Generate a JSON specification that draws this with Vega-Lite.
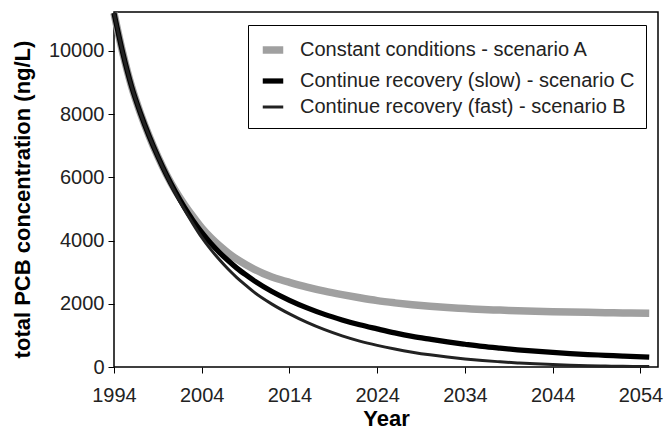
{
  "$schema": "https://vega.github.io/schema/vega-lite/v6.json",
  "autosize": "none",
  "width": 544,
  "height": 355,
  "padding": {"left": 114, "top": 12, "right": 7, "bottom": 74},
  "background": "white",
  "config": {
    "view": {"stroke": "#000000", "strokeWidth": 1.5},
    "font": "Liberation Sans",
    "axis": {
      "domain": false,
      "grid": false,
      "ticks": true,
      "tickColor": "#000000",
      "tickSize": 6,
      "tickWidth": 1,
      "labelFlush": false,
      "labelFont": "Liberation Sans",
      "labelFontSize": 20,
      "labelColor": "#222222",
      "titleFont": "Liberation Sans",
      "titleFontSize": 22,
      "titleFontWeight": "bold",
      "titleColor": "#000000"
    },
    "legend": {
      "labelFont": "Liberation Sans",
      "labelFontSize": 20,
      "labelColor": "#222222"
    }
  },
  "datasets": {
    "curves": [
      {"year": 1994, "scenario": "A", "value": 11200},
      {"year": 1995, "scenario": "A", "value": 9940},
      {"year": 1996, "scenario": "A", "value": 8880},
      {"year": 1997, "scenario": "A", "value": 8040},
      {"year": 1998, "scenario": "A", "value": 7310},
      {"year": 1999, "scenario": "A", "value": 6660},
      {"year": 2000, "scenario": "A", "value": 6080},
      {"year": 2001, "scenario": "A", "value": 5580},
      {"year": 2002, "scenario": "A", "value": 5150},
      {"year": 2003, "scenario": "A", "value": 4760},
      {"year": 2004, "scenario": "A", "value": 4400},
      {"year": 2005, "scenario": "A", "value": 4100},
      {"year": 2006, "scenario": "A", "value": 3840},
      {"year": 2007, "scenario": "A", "value": 3610},
      {"year": 2008, "scenario": "A", "value": 3410},
      {"year": 2009, "scenario": "A", "value": 3240},
      {"year": 2010, "scenario": "A", "value": 3090},
      {"year": 2011, "scenario": "A", "value": 2960},
      {"year": 2012, "scenario": "A", "value": 2850},
      {"year": 2013, "scenario": "A", "value": 2760},
      {"year": 2014, "scenario": "A", "value": 2680},
      {"year": 2016, "scenario": "A", "value": 2530},
      {"year": 2018, "scenario": "A", "value": 2400},
      {"year": 2020, "scenario": "A", "value": 2290},
      {"year": 2022, "scenario": "A", "value": 2190},
      {"year": 2024, "scenario": "A", "value": 2100},
      {"year": 2026, "scenario": "A", "value": 2030},
      {"year": 2028, "scenario": "A", "value": 1970},
      {"year": 2030, "scenario": "A", "value": 1920},
      {"year": 2032, "scenario": "A", "value": 1880},
      {"year": 2034, "scenario": "A", "value": 1850},
      {"year": 2036, "scenario": "A", "value": 1820},
      {"year": 2038, "scenario": "A", "value": 1800},
      {"year": 2040, "scenario": "A", "value": 1780},
      {"year": 2042, "scenario": "A", "value": 1765},
      {"year": 2044, "scenario": "A", "value": 1750},
      {"year": 2046, "scenario": "A", "value": 1740},
      {"year": 2048, "scenario": "A", "value": 1730},
      {"year": 2050, "scenario": "A", "value": 1720},
      {"year": 2052, "scenario": "A", "value": 1710},
      {"year": 2055, "scenario": "A", "value": 1700},

      {"year": 1994, "scenario": "C", "value": 11200},
      {"year": 1995, "scenario": "C", "value": 9940},
      {"year": 1996, "scenario": "C", "value": 8880},
      {"year": 1997, "scenario": "C", "value": 8040},
      {"year": 1998, "scenario": "C", "value": 7310},
      {"year": 1999, "scenario": "C", "value": 6660},
      {"year": 2000, "scenario": "C", "value": 6070},
      {"year": 2001, "scenario": "C", "value": 5545},
      {"year": 2002, "scenario": "C", "value": 5065},
      {"year": 2003, "scenario": "C", "value": 4640},
      {"year": 2004, "scenario": "C", "value": 4260},
      {"year": 2005, "scenario": "C", "value": 3925},
      {"year": 2006, "scenario": "C", "value": 3630},
      {"year": 2007, "scenario": "C", "value": 3370},
      {"year": 2008, "scenario": "C", "value": 3130},
      {"year": 2009, "scenario": "C", "value": 2920},
      {"year": 2010, "scenario": "C", "value": 2725},
      {"year": 2012, "scenario": "C", "value": 2390},
      {"year": 2014, "scenario": "C", "value": 2110},
      {"year": 2016, "scenario": "C", "value": 1870},
      {"year": 2018, "scenario": "C", "value": 1665},
      {"year": 2020, "scenario": "C", "value": 1490},
      {"year": 2022, "scenario": "C", "value": 1335},
      {"year": 2024, "scenario": "C", "value": 1205},
      {"year": 2026, "scenario": "C", "value": 1080},
      {"year": 2028, "scenario": "C", "value": 970},
      {"year": 2030, "scenario": "C", "value": 880},
      {"year": 2032, "scenario": "C", "value": 795},
      {"year": 2034, "scenario": "C", "value": 720},
      {"year": 2036, "scenario": "C", "value": 650},
      {"year": 2038, "scenario": "C", "value": 595},
      {"year": 2040, "scenario": "C", "value": 545},
      {"year": 2042, "scenario": "C", "value": 500},
      {"year": 2044, "scenario": "C", "value": 460},
      {"year": 2046, "scenario": "C", "value": 425},
      {"year": 2048, "scenario": "C", "value": 395},
      {"year": 2050, "scenario": "C", "value": 370},
      {"year": 2052, "scenario": "C", "value": 345},
      {"year": 2055, "scenario": "C", "value": 310},

      {"year": 1994, "scenario": "B", "value": 11200},
      {"year": 1995, "scenario": "B", "value": 9940},
      {"year": 1996, "scenario": "B", "value": 8880},
      {"year": 1997, "scenario": "B", "value": 8040},
      {"year": 1998, "scenario": "B", "value": 7310},
      {"year": 1999, "scenario": "B", "value": 6660},
      {"year": 2000, "scenario": "B", "value": 6060},
      {"year": 2001, "scenario": "B", "value": 5500},
      {"year": 2002, "scenario": "B", "value": 4990},
      {"year": 2003, "scenario": "B", "value": 4530},
      {"year": 2004, "scenario": "B", "value": 4100},
      {"year": 2005, "scenario": "B", "value": 3730},
      {"year": 2006, "scenario": "B", "value": 3400},
      {"year": 2007, "scenario": "B", "value": 3100},
      {"year": 2008, "scenario": "B", "value": 2830},
      {"year": 2009, "scenario": "B", "value": 2590},
      {"year": 2010, "scenario": "B", "value": 2360},
      {"year": 2012, "scenario": "B", "value": 1990},
      {"year": 2014, "scenario": "B", "value": 1680},
      {"year": 2016, "scenario": "B", "value": 1410},
      {"year": 2018, "scenario": "B", "value": 1180},
      {"year": 2020, "scenario": "B", "value": 985},
      {"year": 2022, "scenario": "B", "value": 820},
      {"year": 2024, "scenario": "B", "value": 685},
      {"year": 2026, "scenario": "B", "value": 570},
      {"year": 2028, "scenario": "B", "value": 470},
      {"year": 2030, "scenario": "B", "value": 385},
      {"year": 2032, "scenario": "B", "value": 315},
      {"year": 2034, "scenario": "B", "value": 255},
      {"year": 2036, "scenario": "B", "value": 205},
      {"year": 2038, "scenario": "B", "value": 165},
      {"year": 2040, "scenario": "B", "value": 130},
      {"year": 2042, "scenario": "B", "value": 100},
      {"year": 2044, "scenario": "B", "value": 78},
      {"year": 2046, "scenario": "B", "value": 58},
      {"year": 2048, "scenario": "B", "value": 42},
      {"year": 2050, "scenario": "B", "value": 30},
      {"year": 2052, "scenario": "B", "value": 22},
      {"year": 2055, "scenario": "B", "value": 15}
    ],
    "labels": [
      {"scenario": "A", "label": "Constant conditions - scenario A"},
      {"scenario": "C", "label": "Continue recovery (slow) - scenario C"},
      {"scenario": "B", "label": "Continue recovery (fast) - scenario B"}
    ]
  },
  "data": {"name": "curves"},
  "transform": [
    {"lookup": "scenario", "from": {"data": {"name": "labels"}, "key": "scenario", "fields": ["label"]}}
  ],
  "encoding": {
    "x": {
      "field": "year",
      "type": "quantitative",
      "title": "Year",
      "scale": {"domain": [1994, 2056], "nice": false, "zero": false},
      "axis": {"values": [1994, 2004, 2014, 2024, 2034, 2044, 2054], "format": "d", "labelPadding": 12, "titlePadding": 3}
    },
    "y": {
      "field": "value",
      "type": "quantitative",
      "title": "total PCB concentration (ng/L)",
      "scale": {"domain": [0, 11234], "nice": false},
      "axis": {"values": [0, 2000, 4000, 6000, 8000, 10000], "format": "d", "labelPadding": 4, "titleX": -92, "titleY": 187, "titleBaseline": "middle", "titleAlign": "center", "titleAngle": -90}
    },
    "color": {
      "field": "label",
      "type": "nominal",
      "scale": {
        "domain": ["Constant conditions - scenario A", "Continue recovery (slow) - scenario C", "Continue recovery (fast) - scenario B"],
        "range": ["#a0a0a0", "#000000", "#222222"]
      },
      "legend": {
        "title": null,
        "orient": "none",
        "legendX": 134,
        "legendY": 13,
        "symbolType": "stroke",
        "symbolSize": 420,
        "strokeColor": "#000000",
        "padding": 11,
        "rowPadding": 3,
        "labelOffset": 13,
        "fillColor": "white",
        "labelLimit": 500
      }
    },
    "strokeWidth": {
      "field": "label",
      "type": "nominal",
      "scale": {
        "domain": ["Constant conditions - scenario A", "Continue recovery (slow) - scenario C", "Continue recovery (fast) - scenario B"],
        "range": [7.5, 3, 1.1]
      },
      "legend": {
        "title": null,
        "orient": "none",
        "legendX": 134,
        "legendY": 13,
        "symbolType": "stroke",
        "symbolSize": 420,
        "strokeColor": "#000000",
        "padding": 11,
        "rowPadding": 3,
        "labelOffset": 13,
        "fillColor": "white",
        "labelLimit": 500
      }
    }
  },
  "layer": [
    {"transform": [{"filter": "datum.scenario === 'A'"}], "mark": {"type": "line", "interpolate": "monotone", "strokeCap": "butt"}},
    {"transform": [{"filter": "datum.scenario === 'C'"}], "mark": {"type": "line", "interpolate": "monotone", "strokeCap": "butt"}},
    {"transform": [{"filter": "datum.scenario === 'B'"}], "mark": {"type": "line", "interpolate": "monotone", "strokeCap": "butt"}}
  ]
}
